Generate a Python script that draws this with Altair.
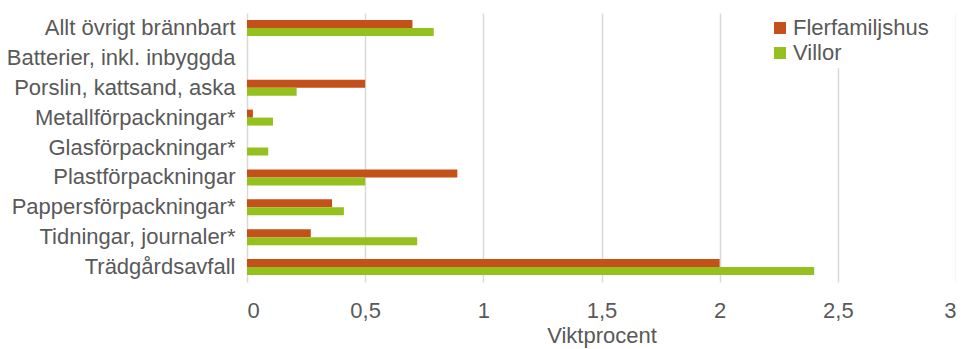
import altair as alt
import pandas as pd

categories = [
    "Allt övrigt brännbart",
    "Batterier, inkl. inbyggda",
    "Porslin, kattsand, aska",
    "Metallförpackningar*",
    "Glasförpackningar*",
    "Plastförpackningar",
    "Pappersförpackningar*",
    "Tidningar, journaler*",
    "Trädgårdsavfall",
]
flerfamiljshus = [0.70, 0.0, 0.50, 0.025, 0.0, 0.89, 0.36, 0.27, 2.00]
villor = [0.79, 0.0, 0.21, 0.11, 0.09, 0.50, 0.41, 0.72, 2.40]
series = ["Flerfamiljshus", "Villor"]
colors = ["#C4511A", "#95C11F"]

rows = []
for c, f, v in zip(categories, flerfamiljshus, villor):
    rows.append({"kategori": c, "serie": series[0], "varde": f})
    rows.append({"kategori": c, "serie": series[1], "varde": v})
df = pd.DataFrame(rows)

font = "Liberation Sans"
txt = "#595959"

chart = alt.Chart(df).mark_bar().encode(
    y=alt.Y("kategori:N", sort=categories, title=None,
            scale=alt.Scale(paddingInner=0.465, paddingOuter=0.23),
            axis=alt.Axis(labelFontSize=22, labelColor=txt, labelFont=font,
                          ticks=False, domain=False, labelPadding=12, labelLimit=400)),
    x=alt.X("varde:Q", title="Viktprocent",
            scale=alt.Scale(domain=[0, 3], nice=False),
            axis=alt.Axis(values=[0, 0.5, 1, 1.5, 2, 2.5, 3],
                          labelExpr="replace(format(datum.value, '~g'), '.', ',')",
                          labelFontSize=22, labelColor=txt, labelFont=font,
                          titleFontSize=22, titleColor=txt, titleFont=font,
                          titleFontWeight="normal", titlePadding=4,
                          ticks=False, domain=False, labelPadding=18,
                          gridColor="#D9D9D9", gridWidth=1.5)),
    yOffset=alt.YOffset("serie:N", sort=series),
    color=alt.Color("serie:N", sort=series,
                    scale=alt.Scale(domain=series, range=colors),
                    legend=alt.Legend(title=None, orient="none", legendX=518, legendY=0,
                                      symbolType="square", symbolSize=144,
                                      symbolStrokeWidth=0,
                                      labelFontSize=22, labelColor=txt, labelFont=font,
                                      rowPadding=3, fillColor="white", padding=4,
                                      labelOffset=2)),
).properties(
    width=709, height=269,
    autosize=alt.AutoSizeParams(type="none"),
    padding={"left": 239, "top": 5, "right": 0, "bottom": 67},
).configure_view(stroke=None).configure_axisY(grid=False)

chart.save("out.html", embed_options={"renderer": "svg", "actions": False})
